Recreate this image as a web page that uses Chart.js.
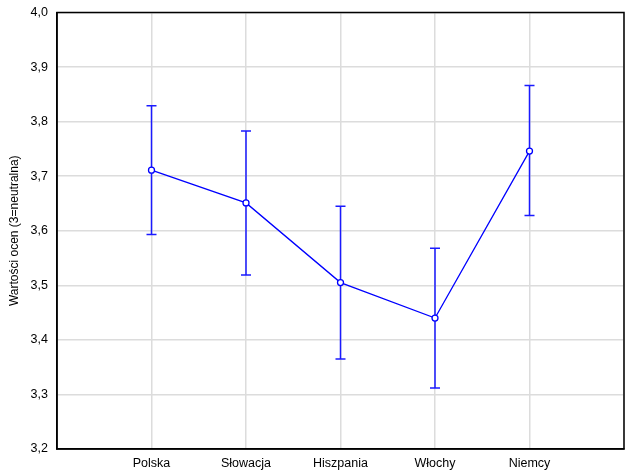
<!DOCTYPE html>
<html>
<head>
<meta charset="utf-8">
<script src="https://cdn.jsdelivr.net/npm/chart.js@4/dist/chart.umd.min.js"></script>
<style>
  body { margin: 0; background: #fff; }
  canvas { display: block; }
</style>
</head>
<body>
<canvas id="c" width="626" height="474"></canvas>
<script>
// values
const categories = ['Polska', 'Słowacja', 'Hiszpania', 'Włochy', 'Niemcy'];
const means = [3.711, 3.651, 3.505, 3.440, 3.746];
const lower = [3.593, 3.519, 3.365, 3.312, 3.628];
const upper = [3.829, 3.783, 3.645, 3.568, 3.866];
const yMin = 3.2, yMax = 4.0, yStep = 0.1;
const yTitle = 'Wartości ocen (3=neutralna)';

const blue = '#0000ff';
const errBlue = '#1a1aff';
const fontFamily = '"Liberation Sans", Arial, sans-serif';

// one small dataset per error bar, caps come from the 'line' point style
const errorSets = categories.map((c, i) => ({
    type: 'line',
    data: [{x: i + 1, y: lower[i]}, {x: i + 1, y: upper[i]}],
    borderColor: errBlue,
    borderWidth: 1.5,
    pointStyle: 'line',
    pointRadius: 5,
    pointBorderColor: errBlue,
    pointBorderWidth: 1.5,
    pointHoverRadius: 5,
    order: 2
}));

const frame = {
    id: 'frame',
    // the x axis keeps some right padding; stretch the plot to the right edge
    afterLayout(chart) {
        const a = chart.chartArea, x = chart.scales.x;
        const r = chart.width - 2;
        a.right = r;
        a.width = r - a.left;
        x.right = r;
        x.width = r - x.left;
        x.configure();
    },
    afterDatasetsDraw(chart) {
        const a = chart.chartArea, ctx = chart.ctx;
        ctx.save();
        ctx.strokeStyle = '#000';
        ctx.lineWidth = 1.5;
        ctx.strokeRect(a.left, a.top, a.right - a.left, a.bottom - a.top);
        ctx.restore();
    }
};

const noPad = () => ({left: 0, top: 0, right: 0, bottom: 0});

new Chart(document.getElementById('c'), {
    type: 'line',
    data: {
        datasets: [{
            data: means.map((v, i) => ({x: i + 1, y: v})),
            borderColor: blue,
            borderWidth: 1.3,
            pointRadius: 3,
            pointBackgroundColor: '#fff',
            pointBorderColor: blue,
            pointBorderWidth: 1.3,
            order: 1
        }, ...errorSets]
    },
    options: {
        responsive: false,
        animation: false,
        layout: {padding: {top: 12.5, right: 2, left: 0, bottom: 0}},
        plugins: {legend: {display: false}, tooltip: {enabled: false}},
        scales: {
            x: {
                type: 'linear',
                min: 0,
                max: categories.length + 1,
                afterFit: s => {
                    s.height = 25;
                    s.getPadding = noPad;
                },
                afterBuildTicks: s => {
                    s.ticks = [];
                    for (let i = 0; i <= categories.length + 1; i++) s.ticks.push({value: i});
                },
                ticks: {
                    padding: 7,
                    color: '#000',
                    font: {family: fontFamily, size: 12.5},
                    maxRotation: 0,
                    autoSkip: false,
                    callback: v => categories[v - 1] || ''
                },
                grid: {color: '#dcdcdc', lineWidth: 1.5, drawTicks: false},
                border: {color: '#000', width: 1.5}
            },
            y: {
                min: yMin,
                max: yMax,
                afterFit: s => {
                    s.width = 57;
                    s.getPadding = noPad;
                },
                ticks: {
                    stepSize: yStep,
                    padding: 9,
                    color: '#000',
                    font: {family: fontFamily, size: 12.5},
                    callback: v => v.toFixed(1).replace('.', ',')
                },
                grid: {color: '#dcdcdc', lineWidth: 1.5, drawTicks: false},
                border: {color: '#000', width: 1.5},
                title: {
                    display: true,
                    text: yTitle,
                    color: '#000',
                    font: {family: fontFamily, size: 12},
                    padding: {top: 7, bottom: 0}
                }
            }
        }
    },
    plugins: [frame]
});
</script>
</body>
</html>
